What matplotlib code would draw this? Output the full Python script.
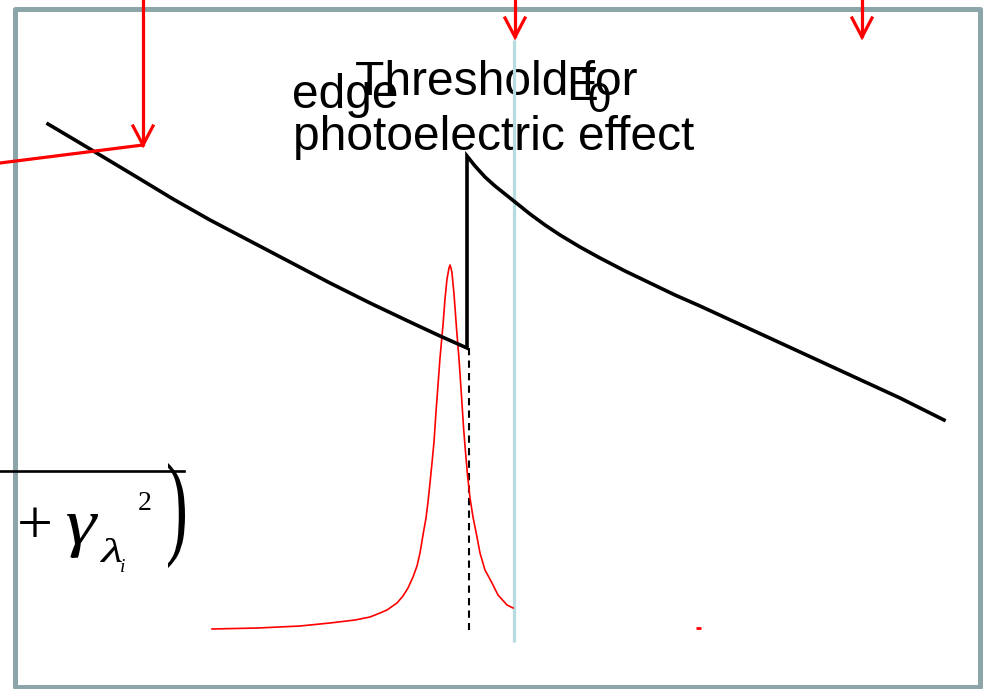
import matplotlib
matplotlib.use("Agg")
import matplotlib.pyplot as plt
from matplotlib.patches import Rectangle, PathPatch
from matplotlib.textpath import TextPath
from matplotlib.font_manager import FontProperties
from matplotlib.transforms import Affine2D

# Absorption curve: falling branch below the edge, jump at the edge, falling branch above it
absorb_below_x = [48, 80, 110, 140, 173, 210, 250, 290, 330, 370, 410, 440, 467]
absorb_below_y = [565, 546, 528, 510, 490, 469, 448, 427, 406, 386, 367, 353, 341]
absorb_above_x = [467, 475, 485, 495, 505, 515, 530, 545, 560, 580, 600, 625, 650,
                  675, 700, 750, 800, 850, 900, 944]
absorb_above_y = [533, 523, 512, 503, 495, 487, 475, 464, 454, 442, 431, 418, 406,
                  394, 383, 360, 337, 314, 291, 269]

# Emission line profile (red peak)
peak_x = [212, 258, 300, 330, 355, 370, 380, 387, 397, 403, 408, 413, 417, 420, 423, 426, 428,
          430, 432, 434, 436, 438, 440, 443, 445, 447, 449, 450, 451, 452, 454, 456.5, 459,
          461.5, 463.5, 465.5, 467.5, 470, 473, 477, 480, 485, 492, 498, 507, 513]
peak_y = [60, 61, 63, 66, 69, 72, 76, 79, 86, 93, 101, 112, 123, 136, 154, 171, 187,
          206, 226, 247, 277, 304, 331, 364, 390, 410, 421, 424, 421, 416, 395, 361, 330,
          293, 262, 237, 214, 191, 172, 152, 136, 119, 106, 94, 84, 81]

# Edge position (dashed) and E0 (light blue)
edge_x = 469
edge_y = [341, 59]
e0_x = 514
e0_y = [47, 649]

# Red arrows pointing down: (x, tip y)
arrow_x = [143, 515, 862]
arrow_tip_y = [544, 652, 652]
arrow_feed_x = [0, 143]
arrow_feed_y = [526, 544]

W, H = 986, 689
fig = plt.figure(figsize=(W / 100, H / 100), dpi=100)
ax = fig.add_axes([0, 0, 1, 1])
ax.set_xlim(0, W)
ax.set_ylim(0, H)
ax.axis("off")

# slide frame
ax.add_patch(Rectangle((15, 2), 965, 678, fill=False, edgecolor="#8ca5a8",
                       linewidth=3.6, joinstyle="round", zorder=1))

sans = "Liberation Sans"
serif = "Liberation Serif"

# labels
ax.text(355, 594, "Threshold for", family=sans, fontsize=34.5, ha="left", va="baseline", zorder=2)
ax.text(293, 539, "photoelectric effect", family=sans, fontsize=34.5, ha="left", va="baseline", zorder=2)
ax.text(292, 581, "edge", family=sans, fontsize=34.5, ha="left", va="baseline", zorder=2)
ax.text(566, 589, "E", family=sans, fontsize=34.5, ha="left", va="baseline", zorder=2)
ax.text(587, 577, "0", family=sans, fontsize=30, ha="left", va="baseline", zorder=2)

# E0 line
ax.plot([e0_x, e0_x], e0_y, color="#b6dce0", lw=2.3, solid_capstyle="butt", zorder=3)

# edge marker
ax.plot([edge_x, edge_x], edge_y, color="black", lw=1.5, dashes=(3.5, 2.5), zorder=3)

# emission peak
ax.plot(peak_x, peak_y, color="#ff0000", lw=1.2, zorder=4)
ax.plot([696, 701], [61, 61], color="#ff0000", lw=2, solid_capstyle="butt", zorder=4)

# absorption curve
ax.plot(absorb_below_x + absorb_above_x, absorb_below_y + absorb_above_y,
        color="black", lw=2.6, solid_joinstyle="miter", zorder=5)

# red arrows
ax.plot(arrow_feed_x, arrow_feed_y, color="#ff0000", lw=2.3, zorder=6)
for x, ty in zip(arrow_x, arrow_tip_y):
    ax.plot([x, x], [H + 5, ty + 1], color="#ff0000", lw=2.3, zorder=6)
    ax.plot([x - 10, x, x + 10], [ty + 19, ty, ty + 19], color="#ff0000", lw=2.3,
            solid_joinstyle="miter", zorder=6)


def glyph_in_box(ch, x0, y0, w, h, style="normal"):
    """Draw a single serif glyph stretched to fill the box (x0, y0, w, h)."""
    tp = TextPath((0, 0), ch, size=1, prop=FontProperties(family=serif, style=style))
    e = tp.get_extents()
    t = (Affine2D().translate(-e.x0, -e.y0)
         .scale(w / e.width, h / e.height)
         .translate(x0, y0))
    ax.add_patch(PathPatch(t.transform_path(tp), facecolor="black", edgecolor="none", zorder=6))


# partial formula at lower left
ax.plot([0, 184], [218, 218], color="black", lw=1.9, zorder=6)
ax.text(35, 160, "+", family=serif, fontsize=46, ha="center", va="center", zorder=6)
glyph_in_box("\u03b3", 67, 131, 31, 44, style="italic")
glyph_in_box("\u03bb", 100, 127, 22, 24, style="italic")
ax.text(120, 117, "i", family=serif, style="italic", fontsize=14, ha="left", va="baseline", zorder=6)
ax.text(138, 179, "2", family=serif, fontsize=20, ha="left", va="baseline", zorder=6)
glyph_in_box(")", 168, 121, 17, 105)

fig.savefig("out.png", dpi=100)
